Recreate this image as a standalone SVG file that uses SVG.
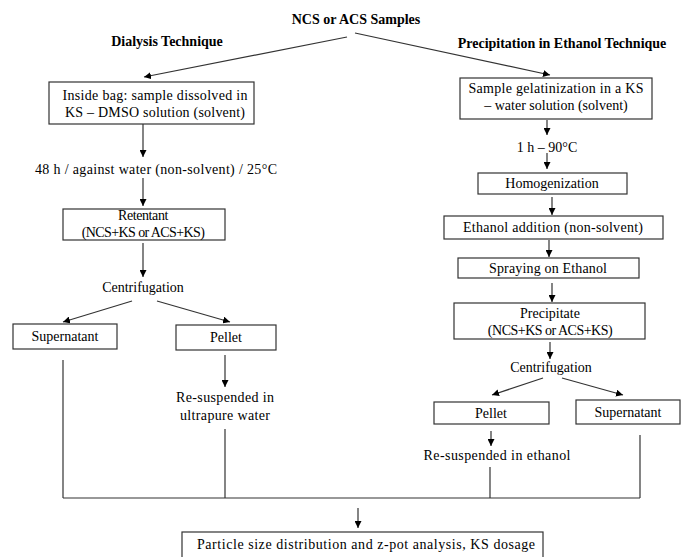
<svg xmlns="http://www.w3.org/2000/svg" width="687" height="557" viewBox="0 0 687 557">
<defs>
<marker id="ah" viewBox="0 0 10 10" refX="10" refY="5" markerWidth="7" markerHeight="7" markerUnits="userSpaceOnUse" orient="auto"><path d="M0,0 L10,5 L0,10 z" fill="#000"/></marker>
<style>
text{font-family:"Liberation Serif","Times New Roman",serif;font-size:14px;fill:#000;text-anchor:middle}
.b{font-weight:bold}
.box{fill:#fff;stroke:#333;stroke-width:1.2}
.c line,.c polyline{stroke:#333;stroke-width:1.2;fill:none}
.a{marker-end:url(#ah)}
</style>
</defs>
<rect width="687" height="557" fill="#fff"/>
<g id="titles">
<text class="b" x="356" y="24">NCS or ACS Samples</text>
<text class="b" x="167" y="46">Dialysis Technique</text>
<text class="b" x="562" y="48">Precipitation  in Ethanol  Technique</text>
</g>
<g class="c" id="connectors">
<line class="a" x1="347" y1="37" x2="144" y2="77"/>
<line class="a" x1="355" y1="33" x2="550" y2="75"/>
<line class="a" x1="143" y1="124" x2="143" y2="157"/>
<line class="a" x1="143" y1="178" x2="143" y2="206"/>
<line class="a" x1="143" y1="243" x2="143" y2="277"/>
<line class="a" x1="132" y1="301" x2="63" y2="322"/>
<line class="a" x1="157" y1="301" x2="230" y2="322"/>
<line class="a" x1="225" y1="355" x2="225" y2="387"/>
<line x1="63" y1="360" x2="63" y2="498"/>
<line x1="225" y1="429" x2="225" y2="498"/>
<line x1="63" y1="498" x2="640" y2="498"/>
<line x1="490" y1="467" x2="490" y2="498"/>
<line x1="640" y1="435" x2="640" y2="498"/>
<line class="a" x1="358" y1="508" x2="358" y2="528"/>
<line class="a" x1="547" y1="120" x2="547" y2="135"/>
<line class="a" x1="547" y1="153" x2="547" y2="169"/>
<line class="a" x1="552" y1="197" x2="552" y2="215"/>
<line class="a" x1="549" y1="240" x2="549" y2="257"/>
<line class="a" x1="552" y1="283" x2="552" y2="302"/>
<line class="a" x1="550" y1="342" x2="550" y2="359"/>
<line class="a" x1="543" y1="378" x2="492" y2="395"/>
<line class="a" x1="562" y1="378" x2="623" y2="395"/>
<line class="a" x1="491" y1="431" x2="491" y2="446"/>
</g>
<g id="inside-bag">
<rect class="box" x="49" y="82" width="205" height="42"/>
<text x="155" y="100" textLength="185" lengthAdjust="spacing">Inside bag: sample dissolved in</text>
<text x="155" y="117" textLength="180" lengthAdjust="spacing">KS – DMSO solution  (solvent)</text>
</g>
<g id="label-48h">
<text x="156" y="174" textLength="242" lengthAdjust="spacing">48 h / against  water (non-solvent)  / 25°C</text>
</g>
<g id="retentant">
<rect class="box" x="63" y="209" width="162" height="31"/>
<text x="143" y="220" font-size="13" letter-spacing="-0.4">Retentant</text>
<text x="143" y="237" font-size="14" letter-spacing="-0.6">(NCS+KS or ACS+KS)</text>
</g>
<g id="centrifugation-left"><text x="143" y="292">Centrifugation</text></g>
<g id="supernatant-left">
<rect class="box" x="13" y="324" width="104" height="25"/>
<text x="65" y="341">Supernatant</text>
</g>
<g id="pellet-left">
<rect class="box" x="176" y="325" width="100" height="25"/>
<text x="226" y="342">Pellet</text>
</g>
<g id="resuspended-water">
<text x="225" y="402" textLength="98" lengthAdjust="spacing">Re-suspended in</text>
<text x="225" y="420" textLength="90" lengthAdjust="spacing">ultrapure  water</text>
</g>
<g id="gelatinization">
<rect class="box" x="460" y="78" width="192" height="41"/>
<text x="556" y="93" textLength="175" lengthAdjust="spacing">Sample  gelatinization  in a KS</text>
<text x="556" y="110">– water  solution  (solvent)</text>
</g>
<g id="label-1h"><text x="547" y="152">1 h – 90°C</text></g>
<g id="homogenization">
<rect class="box" x="478" y="173" width="149" height="21"/>
<text x="552" y="188">Homogenization</text>
</g>
<g id="ethanol-addition">
<rect class="box" x="444" y="216" width="219" height="23"/>
<text x="553" y="232" textLength="180" lengthAdjust="spacing">Ethanol  addition  (non-solvent)</text>
</g>
<g id="spraying">
<rect class="box" x="458" y="258" width="181" height="20"/>
<text x="548" y="273" textLength="118" lengthAdjust="spacing">Spraying  on Ethanol</text>
</g>
<g id="precipitate">
<rect class="box" x="454" y="303" width="191" height="36"/>
<text x="550" y="318">Precipitate</text>
<text x="550" y="335" letter-spacing="-0.5">(NCS+KS or ACS+KS)</text>
</g>
<g id="centrifugation-right"><text x="551" y="372">Centrifugation</text></g>
<g id="pellet-right">
<rect class="box" x="434" y="402" width="115" height="22"/>
<text x="491" y="418">Pellet</text>
</g>
<g id="supernatant-right">
<rect class="box" x="576" y="400" width="104" height="24"/>
<text x="628" y="417">Supernatant</text>
</g>
<g id="resuspended-ethanol"><text x="497" y="460" textLength="147" lengthAdjust="spacing">Re-suspended in ethanol</text></g>
<g id="analysis">
<rect class="box" x="182" y="532" width="361" height="30"/>
<text x="366" y="549" textLength="338" lengthAdjust="spacing">Particle  size  distribution  and z-pot analysis,  KS dosage</text>
</g>
</svg>
